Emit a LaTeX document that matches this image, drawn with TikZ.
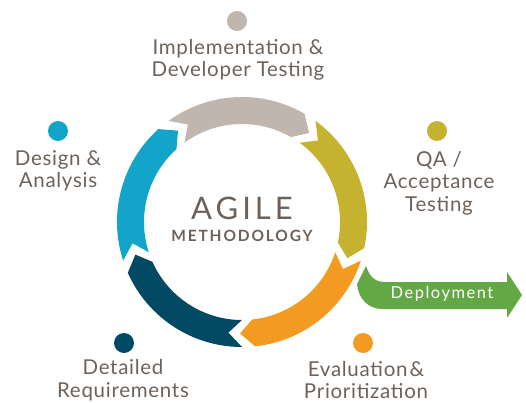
\documentclass[tikz,border=0pt]{standalone}
\usepackage{fontspec}
\setmainfont{Lato}[LetterSpace=3.5]
\newfontfamily\spacedfont[LetterSpace=13]{Lato}
\newfontfamily\widefont[LetterSpace=12]{Lato}
\newfontfamily\deployfont[LetterSpace=9]{Lato}
\usetikzlibrary{positioning}
\definecolor{txtgray}{HTML}{6D625B}
\definecolor{implgray}{HTML}{C1B6AD}
\definecolor{qayellow}{HTML}{C5B22F}
\definecolor{evalorange}{HTML}{F39A21}
\definecolor{reqdark}{HTML}{024A64}
\definecolor{designblue}{HTML}{12A5C9}
\definecolor{deploygreen}{HTML}{64A845}
\tikzset{
  label/.style={align=center,text=txtgray,font=\fontsize{20.5}{22.5}\selectfont,inner sep=0pt},
  stepdot/.style={circle,minimum size=20pt,inner sep=0pt}
}
\begin{document}
\begin{tikzpicture}[x=1pt,y=-1pt]
\useasboundingbox (0,0) rectangle (526,403);

% the cycle
\begin{scope}[shift={(242,222)},yscale=-1]
\fill[implgray] (126:125) arc[start angle=126,end angle=60,radius=125] -- (53:111.5) -- (60:98) arc[start angle=60,end angle=126,radius=98] -- (119:111.5) -- cycle;
\fill[qayellow] (54:125) arc[start angle=54,end angle=-12,radius=125] -- (-19:111.5) -- (-12:98) arc[start angle=-12,end angle=54,radius=98] -- (47:111.5) -- cycle;
\fill[evalorange] (-18:125) arc[start angle=-18,end angle=-84,radius=125] -- (-91:111.5) -- (-84:98) arc[start angle=-84,end angle=-18,radius=98] -- (-25:111.5) -- cycle;
\fill[reqdark] (-90:125) arc[start angle=-90,end angle=-156,radius=125] -- (-163:111.5) -- (-156:98) arc[start angle=-156,end angle=-90,radius=98] -- (-97:111.5) -- cycle;
\fill[designblue] (-162:125) arc[start angle=-162,end angle=-228,radius=125] -- (-235:111.5) -- (-228:98) arc[start angle=-228,end angle=-162,radius=98] -- (-169:111.5) -- cycle;
\end{scope}

\node (agile) at (242,208) {\spacedfont\color{txtgray}\fontsize{31}{31}\selectfont AGILE};
\node (method) at (242,236) {\widefont\color{txtgray}\bfseries\fontsize{15.5}{15.5}\selectfont METHODOLOGY};

% deployment
\fill[deploygreen] (366,266) .. controls (370,278) and (376,282) .. (385,282) -- (507,282) -- (507,272) -- (522,295) -- (507,318) -- (507,309) -- (382,309) .. controls (368,309) and (358,298) .. (357,284) -- cycle;
\node[text=white,font=\deployfont\fontsize{16.5}{16.5}\selectfont] (deploy) at (442,294) {Deployment};

% steps
\node[stepdot,fill=implgray] (dotimpl) at (237,21) {};
\node[label] (impl) at (238,60) {Implementation \&\\Developer Testing};
\node[stepdot,fill=qayellow] (dotqa) at (437,131) {};
\node[label] (qa) at (439,183) {QA /\\Acceptance\\Testing};
\node[stepdot,fill=evalorange] (doteval) at (363,343) {};
\node[label] (eval) at (366,380) {Evaluation\kern2pt\&\\Prioritization};
\node[stepdot,fill=reqdark] (dotreq) at (124,343) {};
\node[label] (req) at (123,380) {Detailed\\Requirements};
\node[stepdot,fill=designblue] (dotdesign) at (58,131) {};
\node[label] (design) at (58,171) {Design \&\\Analysis};

\end{tikzpicture}
\end{document}
